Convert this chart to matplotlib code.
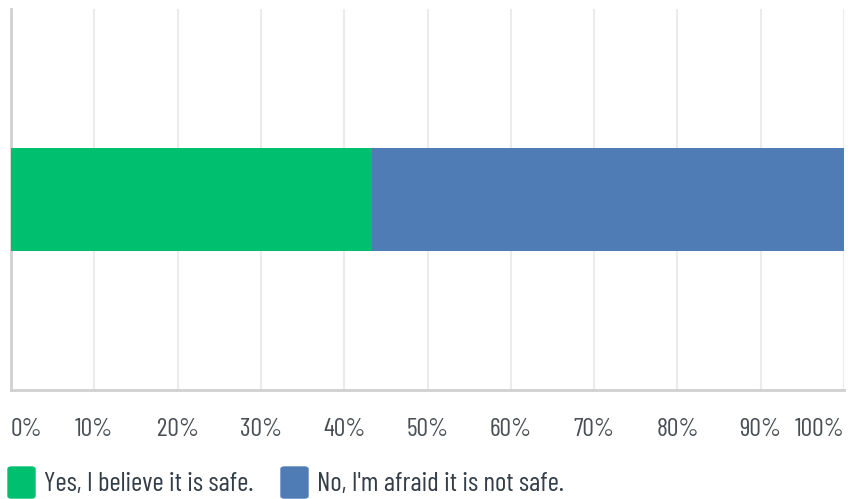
import matplotlib
matplotlib.use("Agg")
import matplotlib.pyplot as plt
from matplotlib.patches import FancyBboxPatch

answers = ["Yes, I believe it is safe.", "No, I'm afraid it is not safe."]
shares = [43.3, 56.7]
colors = ["#00bf6f", "#507cb6"]
ticks = [0, 10, 20, 30, 40, 50, 60, 70, 80, 90, 100]
tick_labels = [f"{t}%" for t in ticks]

plt.rcParams["font.family"] = ["Barlow Condensed", "DejaVu Sans"]

fig = plt.figure(figsize=(8.48, 4.99), dpi=100)
ax = fig.add_axes([11 / 848, 1 - 390 / 499, 833 / 848, 381 / 499])

left = 0
for share, col in zip(shares, colors):
    ax.barh(0, share, left=left, height=0.268, color=col, zorder=3)
    left += share

ax.set_xlim(0, 100)
ax.set_ylim(-0.5, 0.5)
ax.set_yticks([])
ax.set_xticks(ticks)
ax.set_xticklabels(tick_labels, fontsize=18.5, color="#4a4f55")
ax.tick_params(axis="x", length=0, pad=20)
labels = ax.get_xticklabels()
labels[0].set_ha("left")
labels[-1].set_ha("right")
ax.grid(axis="x", color="#ebebeb", linewidth=1.5, zorder=0)

for side in ["top", "right"]:
    ax.spines[side].set_visible(False)
for side in ["left", "bottom"]:
    ax.spines[side].set_color("#d0d0d0")
    ax.spines[side].set_linewidth(2)

# legend drawn by hand
legend_x = [8, 281]
for x0, col, txt in zip(legend_x, colors, answers):
    box = FancyBboxPatch((x0 / 848, 1 / 499), 27 / 848, 31 / 499,
                         boxstyle="round,pad=0,rounding_size=0.004",
                         transform=fig.transFigure, color=col)
    fig.patches.append(box)
    fig.text((x0 + 36) / 848, 15 / 499, txt, fontsize=19.5, color="#333e48",
             va="center", ha="left")

fig.savefig("out.png", dpi=100)
